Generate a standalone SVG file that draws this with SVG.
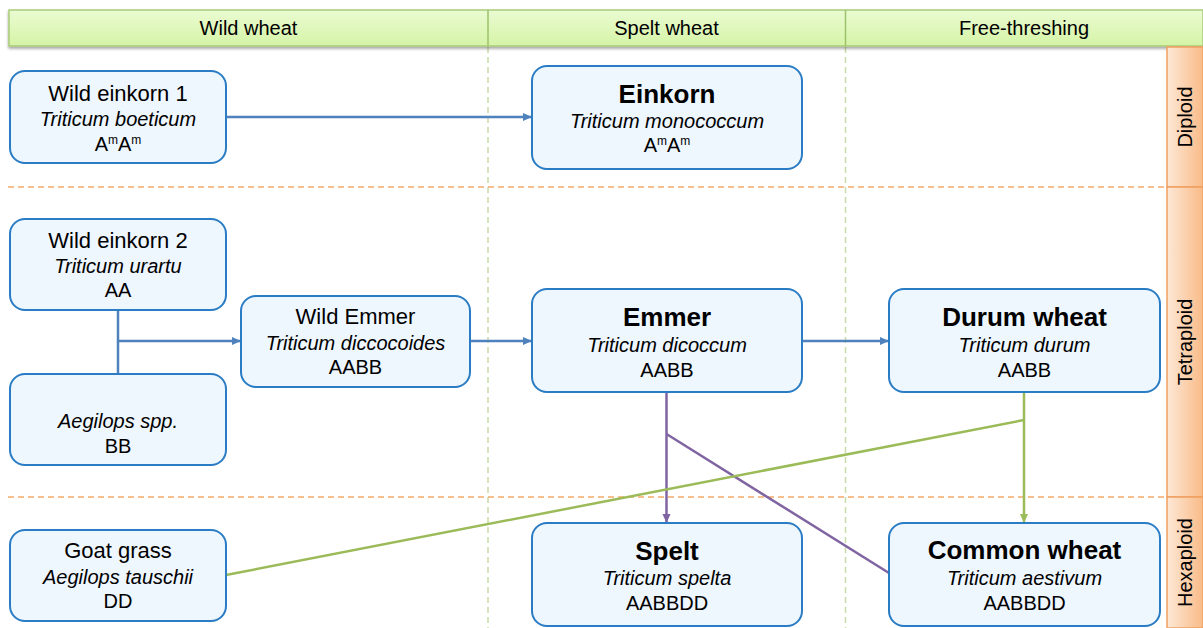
<svg xmlns="http://www.w3.org/2000/svg" width="1203" height="628" viewBox="0 0 1203 628">
<defs>
<linearGradient id="hdr" x1="0" y1="0" x2="0" y2="1">
<stop offset="0" stop-color="#eafbd2"/>
<stop offset="1" stop-color="#d5f4a6"/>
</linearGradient>
<linearGradient id="side" x1="0" y1="0" x2="1" y2="0">
<stop offset="0" stop-color="#fde8d6"/>
<stop offset="1" stop-color="#f9bb88"/>
</linearGradient>
<filter id="sh" x="-5%" y="-20%" width="110%" height="160%">
<feGaussianBlur in="SourceAlpha" stdDeviation="1.5"/>
<feOffset dy="2"/>
<feComponentTransfer><feFuncA type="linear" slope="0.35"/></feComponentTransfer>
<feMerge><feMergeNode/><feMergeNode in="SourceGraphic"/></feMerge>
</filter>
<marker id="ab" markerUnits="userSpaceOnUse" markerWidth="10" markerHeight="10" refX="9" refY="5" orient="auto"><path d="M0,1 L9,5 L0,9 Z" fill="#4f81bd"/></marker>
<marker id="ap" markerUnits="userSpaceOnUse" markerWidth="10" markerHeight="10" refX="9" refY="5" orient="auto"><path d="M0,1 L9,5 L0,9 Z" fill="#8064a2"/></marker>
<marker id="ag" markerUnits="userSpaceOnUse" markerWidth="10" markerHeight="10" refX="9" refY="5" orient="auto"><path d="M0,1 L9,5 L0,9 Z" fill="#9bbb59"/></marker>
</defs>
<style>
text{font-family:"Liberation Sans",Arial,sans-serif;fill:#000;text-anchor:middle}
.hd{font-size:20px}
.sd{font-size:20px}
.t{font-size:22px}
.b{font-size:26px;font-weight:bold}
.i{font-size:20px;font-style:italic}
.g{font-size:20px}
.sup{font-size:12px}
.node rect{fill:#eef6fe;stroke:#2a7cc4;stroke-width:2}
.col{stroke:#c8dca8;stroke-width:1.5;stroke-dasharray:6 4;fill:none}
.row{stroke:#f5a96a;stroke-width:1.5;stroke-dasharray:6 4;fill:none}
.cb{stroke:#4f81bd;stroke-width:2.5;fill:none}
.cp{stroke:#8064a2;stroke-width:2.5;fill:none}
.cg{stroke:#9bbb59;stroke-width:2.5;fill:none}
</style>
<rect width="1203" height="628" fill="#ffffff"/>

<g id="grid">
<line class="col" x1="488" y1="47" x2="488" y2="628"/>
<line class="col" x1="845.5" y1="47" x2="845.5" y2="628"/>
<line class="row" x1="8" y1="187" x2="1167" y2="187"/>
<line class="row" x1="8" y1="497" x2="1167" y2="497"/>
</g>

<g id="header" filter="url(#sh)">
<rect x="9" y="10" width="1194" height="36" fill="url(#hdr)" stroke="#a9cc78" stroke-width="1.5"/>
<line x1="488" y1="10" x2="488" y2="46" stroke="#9cc26a" stroke-width="1.5"/>
<line x1="845.5" y1="10" x2="845.5" y2="46" stroke="#9cc26a" stroke-width="1.5"/>
</g>
<g id="header-labels">
<text class="hd" x="248.5" y="35">Wild wheat</text>
<text class="hd" x="666.5" y="35">Spelt wheat</text>
<text class="hd" x="1024" y="35">Free-threshing</text>
</g>

<g id="sidebar">
<rect x="1167" y="47" width="36" height="140" fill="url(#side)" stroke="#f0a060" stroke-width="1.5"/>
<rect x="1167" y="187" width="36" height="310" fill="url(#side)" stroke="#f0a060" stroke-width="1.5"/>
<rect x="1167" y="497" width="36" height="131" fill="url(#side)" stroke="#f0a060" stroke-width="1.5"/>
<text class="sd" transform="translate(1192,117) rotate(-90)">Diploid</text>
<text class="sd" transform="translate(1192,342) rotate(-90)">Tetraploid</text>
<text class="sd" transform="translate(1192,562.5) rotate(-90)">Hexaploid</text>
</g>

<g id="connectors">
<line class="cb" x1="226" y1="117" x2="532" y2="117" marker-end="url(#ab)"/>
<line class="cb" x1="118" y1="310" x2="118" y2="374"/>
<line class="cb" x1="118" y1="341" x2="241" y2="341" marker-end="url(#ab)"/>
<line class="cb" x1="470" y1="341" x2="532" y2="341" marker-end="url(#ab)"/>
<line class="cb" x1="802" y1="341" x2="889" y2="341" marker-end="url(#ab)"/>
<line class="cp" x1="666.5" y1="392" x2="666.5" y2="523" marker-end="url(#ap)"/>
<line class="cp" x1="666.5" y1="434" x2="889" y2="573"/>
<line class="cg" x1="1024" y1="392" x2="1024" y2="523" marker-end="url(#ag)"/>
<line class="cg" x1="1024" y1="420" x2="226" y2="575"/>
</g>

<g id="wild-einkorn-1" class="node">
<rect x="10" y="71" width="216" height="92" rx="15"/>
<text class="t" x="118" y="101">Wild einkorn 1</text>
<text class="i" x="118" y="126">Triticum boeticum</text>
<text class="g" x="118" y="151">A<tspan class="sup" dy="-7">m</tspan><tspan dy="7">A</tspan><tspan class="sup" dy="-7">m</tspan></text>
</g>

<g id="einkorn" class="node">
<rect x="532" y="66" width="270" height="103" rx="15"/>
<text class="b" x="667" y="103">Einkorn</text>
<text class="i" x="667" y="128">Triticum monococcum</text>
<text class="g" x="667" y="152">A<tspan class="sup" dy="-7">m</tspan><tspan dy="7">A</tspan><tspan class="sup" dy="-7">m</tspan></text>
</g>

<g id="wild-einkorn-2" class="node">
<rect x="10" y="219" width="216" height="91" rx="15"/>
<text class="t" x="118" y="248">Wild einkorn 2</text>
<text class="i" x="118" y="273">Triticum urartu</text>
<text class="g" x="118" y="297">AA</text>
</g>

<g id="aegilops-spp" class="node">
<rect x="10" y="374" width="216" height="91" rx="15"/>
<text class="i" x="118" y="428">Aegilops spp.</text>
<text class="g" x="118" y="453">BB</text>
</g>

<g id="wild-emmer" class="node">
<rect x="241" y="296" width="229" height="91" rx="15"/>
<text class="t" x="355.5" y="324">Wild Emmer</text>
<text class="i" x="355.5" y="350">Triticum diccocoides</text>
<text class="g" x="355.5" y="374">AABB</text>
</g>

<g id="emmer" class="node">
<rect x="532" y="289" width="270" height="103" rx="15"/>
<text class="b" x="667" y="326">Emmer</text>
<text class="i" x="667" y="352">Triticum dicoccum</text>
<text class="g" x="667" y="377">AABB</text>
</g>

<g id="durum-wheat" class="node">
<rect x="889" y="289" width="271" height="103" rx="15"/>
<text class="b" x="1024.5" y="326">Durum wheat</text>
<text class="i" x="1024.5" y="352">Triticum durum</text>
<text class="g" x="1024.5" y="377">AABB</text>
</g>

<g id="goat-grass" class="node">
<rect x="10" y="530" width="216" height="91" rx="15"/>
<text class="t" x="118" y="558">Goat grass</text>
<text class="i" x="118" y="584">Aegilops tauschii</text>
<text class="g" x="118" y="608">DD</text>
</g>

<g id="spelt" class="node">
<rect x="532" y="523" width="270" height="103" rx="15"/>
<text class="b" x="667" y="560">Spelt</text>
<text class="i" x="667" y="585">Triticum spelta</text>
<text class="g" x="667" y="610">AABBDD</text>
</g>

<g id="common-wheat" class="node">
<rect x="889" y="523" width="271" height="103" rx="15"/>
<text class="b" x="1024.5" y="559">Common wheat</text>
<text class="i" x="1024.5" y="585">Triticum aestivum</text>
<text class="g" x="1024.5" y="610">AABBDD</text>
</g>
</svg>
